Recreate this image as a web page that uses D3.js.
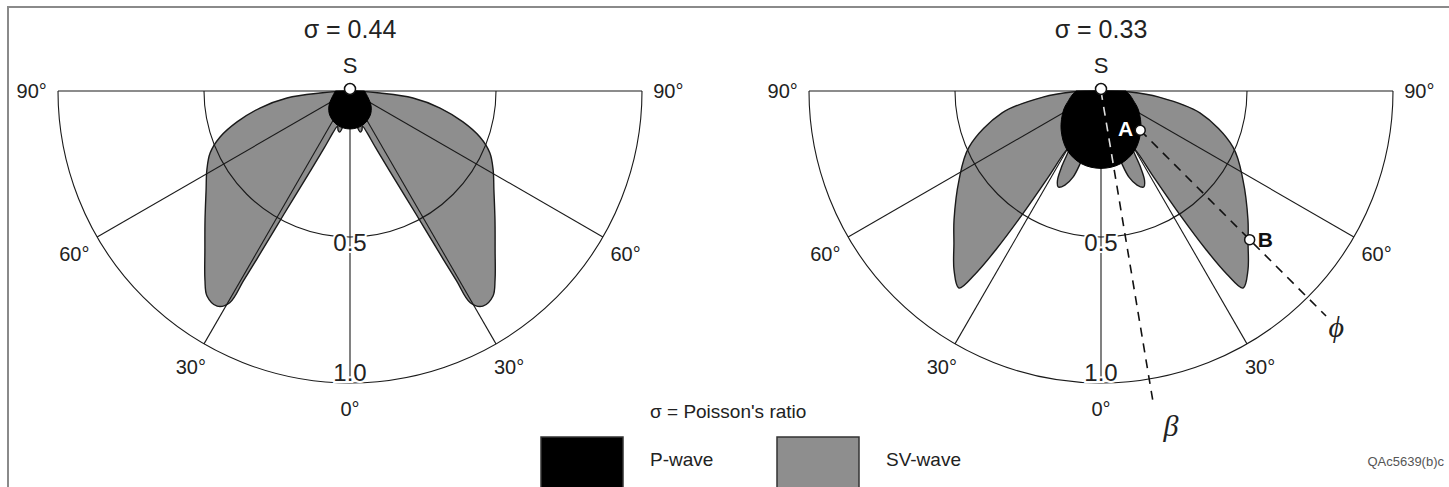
<!DOCTYPE html>
<html>
<head>
<meta charset="utf-8">
<script src="https://cdn.jsdelivr.net/npm/d3@7"></script>
<style>
  body { margin: 0; background: #fff; }
  svg { display: block; font-family: "Liberation Sans", Arial, sans-serif; }
</style>
</head>
<body>
<svg id="chart" width="1449" height="487"></svg>
<script>
// poisson's ratio of each panel
var sigmas = ["0.44", "0.33"];

// grid
var angleTicks = [-90, -60, -30, 0, 30, 60, 90];
var angleLabels = ["90°", "60°", "30°", "0°", "30°", "60°", "90°"];
var radiusTicks = [0.5, 1.0];
var radiusLabels = ["0.5", "1.0"];

// SV-wave lobe, sigma = 0.44 (right half, mirrored for the left half)
var svTheta044 = [0, 6, 10, 14, 17, 19.4, 24.3, 26.3, 28.2, 29.0, 29.3, 29.6, 31.7, 34.9, 37.5, 42.4, 48.3, 55.5, 61.1, 66.1, 70.5, 74.7, 79.3, 83.7, 86.2, 89, 90];
var svR044 = [0, 0.06, 0.11, 0.145, 0.14, 0.128, 0.212, 0.30, 0.478, 0.658, 0.746, 0.834, 0.866, 0.856, 0.816, 0.737, 0.665, 0.598, 0.56, 0.524, 0.472, 0.401, 0.314, 0.217, 0.103, 0.02, 0];

// P-wave lobe, sigma = 0.44
var pTheta044 = [0, 20, 40, 55, 70, 90];
var pR044 = [0.13, 0.125, 0.108, 0.088, 0.066, 0.05];

// SV-wave lobe, sigma = 0.33
var svTheta033 = [0, 8, 13, 16, 18, 21, 24, 26, 27.5, 29, 30.5, 31.5, 32.5, 33.5, 34.5, 35.8, 39.4, 44, 48.7, 57.9, 67, 77.5, 84, 88, 90];
var svR033 = [0, 0.08, 0.17, 0.258, 0.31, 0.345, 0.36, 0.34, 0.29, 0.22, 0.24, 0.35, 0.5, 0.65, 0.76, 0.832, 0.793, 0.725, 0.67, 0.574, 0.491, 0.347, 0.2, 0.1, 0];

// P-wave lobe, sigma = 0.33
var pTheta033 = [0, 15, 30, 46, 63, 74, 82, 90];
var pR033 = [0.265, 0.258, 0.233, 0.19, 0.144, 0.115, 0.1, 0.085];

// marked points on the sigma = 0.33 panel
var pointNames = ["A", "B"];
var pointTheta = [45, 45];
var pointR = [0.19, 0.72];
var phiAngle = 45, phiEnd = 1.09;
var betaAngle = 9.5, betaEnd = 1.08;

var panels = [
  {cx: 350, sv: [svTheta044, svR044], p: [pTheta044, pR044]},
  {cx: 1101, sv: [svTheta033, svR033], p: [pTheta033, pR033]}
];

var R = 292, cy = 91;
var rScale = d3.scaleLinear().domain([0, 1]).range([0, R]);
var toRad = function(t) { return Math.PI - t * Math.PI / 180; };

var svg = d3.select("#chart");

// frame
svg.append("rect").attr("x", 8).attr("y", 7).attr("width", 1500).attr("height", 520)
  .attr("fill", "none").attr("stroke", "#8a8a8a").attr("stroke-width", 2);

var radial = d3.lineRadial()
  .angle(function(d) { return toRad(d[0]); })
  .radius(function(d) { return rScale(d[1]); })
  .curve(d3.curveCatmullRom);
var straight = d3.lineRadial()
  .angle(function(d) { return toRad(d[0]); })
  .radius(function(d) { return rScale(d[1]); });

function polar(t, r) {
  var a = toRad(t);
  return [rScale(r) * Math.sin(a), -rScale(r) * Math.cos(a)];
}

panels.forEach(function(pn, i) {
  var g = svg.append("g").attr("transform", "translate(" + pn.cx + "," + cy + ")");

  // SV lobes
  [1, -1].forEach(function(side) {
    var pts = pn.sv[0].map(function(t, k) { return [side * t, pn.sv[1][k]]; });
    g.append("path").attr("d", radial(pts) + "Z")
      .attr("fill", "#8e8e8e").attr("stroke", "#1a1a1a").attr("stroke-width", 1.4);
  });

  // grid
  var grid = g.append("g").attr("fill", "none").attr("stroke", "#1a1a1a").attr("stroke-width", 1.1);
  grid.append("path").attr("d", straight([[-90, 1], [90, 1]]));
  radiusTicks.forEach(function(rt) {
    var p = d3.path();
    p.arc(0, 0, rScale(rt), 0, Math.PI);
    grid.append("path").attr("d", p.toString());
  });
  angleTicks.slice(1, -1).forEach(function(t) {
    grid.append("path").attr("d", straight([[t, 0], [t, 1]]));
  });

  // P lobe
  var pPts = pn.p[0].slice().reverse().map(function(t, k) {
    return [-t, pn.p[1][pn.p[0].length - 1 - k]];
  }).concat(pn.p[0].slice(1).map(function(t, k) { return [t, pn.p[1][k + 1]]; }));
  var pPath = radial(pPts) + "Z";
  g.append("path").attr("d", pPath).attr("fill", "#000").attr("stroke", "#000").attr("stroke-width", 1);

  // angle labels
  g.selectAll(".alab").data(angleTicks).enter().append("text")
    .attr("x", function(t) { return polar(t, 1.09)[0]; })
    .attr("y", function(t) { return polar(t, 1.09)[1] + (Math.abs(t) === 60 ? 4 : 0); })
    .attr("text-anchor", "middle").attr("dominant-baseline", "central")
    .attr("font-size", 20).attr("fill", "#222")
    .text(function(t, k) { return angleLabels[k]; });

  // radius labels
  g.selectAll(".rlab").data(radiusTicks).enter().append("text")
    .attr("x", 0)
    .attr("y", function(r) { return rScale(r) - (r === 1 ? 11 : -5); })
    .attr("text-anchor", "middle").attr("dominant-baseline", "central")
    .attr("font-size", 24).attr("fill", "#222")
    .attr("stroke", "#fff").attr("stroke-width", 4).attr("paint-order", "stroke")
    .text(function(r, k) { return radiusLabels[k]; });

  // title and source point
  svg.append("text").attr("x", pn.cx).attr("y", 29)
    .attr("text-anchor", "middle").attr("dominant-baseline", "central")
    .attr("font-size", 25).attr("fill", "#222")
    .text("σ = " + sigmas[i]);
  g.append("text").attr("x", 0).attr("y", -26)
    .attr("text-anchor", "middle").attr("dominant-baseline", "central")
    .attr("font-size", 22).attr("fill", "#222").text("S");

  if (i === 1) {
    var clipId = "pclip";
    g.append("clipPath").attr("id", clipId).append("path").attr("d", pPath);
    var betaLine = straight([[betaAngle, 0], [betaAngle, betaEnd]]);
    g.append("path").attr("d", betaLine).attr("fill", "none")
      .attr("stroke", "#111").attr("stroke-width", 1.6).attr("stroke-dasharray", "9,7");
    g.append("path").attr("d", betaLine).attr("fill", "none").attr("clip-path", "url(#" + clipId + ")")
      .attr("stroke", "#ddd").attr("stroke-width", 1.6).attr("stroke-dasharray", "9,7");
    g.append("path").attr("d", straight([[phiAngle, pointR[0]], [phiAngle, phiEnd]]))
      .attr("fill", "none").attr("stroke", "#111").attr("stroke-width", 1.6).attr("stroke-dasharray", "9,7");

    var bp = polar(betaAngle + 2.3, 1.17);
    g.append("text").attr("x", bp[0]).attr("y", bp[1]).attr("text-anchor", "middle")
      .attr("dominant-baseline", "central").attr("font-family", "'Liberation Serif', serif")
      .attr("font-style", "italic").attr("font-size", 30).attr("fill", "#222").text("β");
    var fp = polar(phiAngle, 1.14);
    g.append("text").attr("x", fp[0]).attr("y", fp[1]).attr("text-anchor", "middle")
      .attr("dominant-baseline", "central").attr("font-family", "'Liberation Serif', serif")
      .attr("font-style", "italic").attr("font-size", 30).attr("fill", "#222").text("ϕ");

    pointNames.forEach(function(nm, k) {
      var pp = polar(pointTheta[k], pointR[k]);
      g.append("circle").attr("cx", pp[0]).attr("cy", pp[1]).attr("r", 5)
        .attr("fill", "#fff").attr("stroke", "#111").attr("stroke-width", 1.5);
      g.append("text").attr("x", pp[0] + (k === 0 ? -7 : 8)).attr("y", pp[1] - (k === 0 ? 2 : 0))
        .attr("text-anchor", k === 0 ? "end" : "start").attr("dominant-baseline", "central")
        .attr("font-size", 21).attr("font-weight", "bold")
        .attr("fill", k === 0 ? "#fff" : "#111").text(nm);
    });
  }

  g.append("circle").attr("cx", 0).attr("cy", -2).attr("r", 5.5)
    .attr("fill", "#fff").attr("stroke", "#111").attr("stroke-width", 1.5);
});

// legend
svg.append("text").attr("x", 650).attr("y", 411).attr("dominant-baseline", "central")
  .attr("font-size", 19).attr("fill", "#222").text("σ = Poisson's ratio");
var legendNames = ["P-wave", "SV-wave"];
var legendFill = ["#000", "#8e8e8e"];
var legendX = [541, 777];
legendNames.forEach(function(nm, k) {
  svg.append("rect").attr("x", legendX[k]).attr("y", 437).attr("width", 82).attr("height", 60)
    .attr("fill", legendFill[k]).attr("stroke", "#333").attr("stroke-width", 1.5);
  svg.append("text").attr("x", legendX[k] + 109).attr("y", 459).attr("dominant-baseline", "central")
    .attr("font-size", 19).attr("fill", "#222").text(nm);
});
svg.append("text").attr("x", 1444).attr("y", 461).attr("text-anchor", "end")
  .attr("dominant-baseline", "central").attr("font-size", 13).attr("fill", "#555").text("QAc5639(b)c");
</script>
</body>
</html>
